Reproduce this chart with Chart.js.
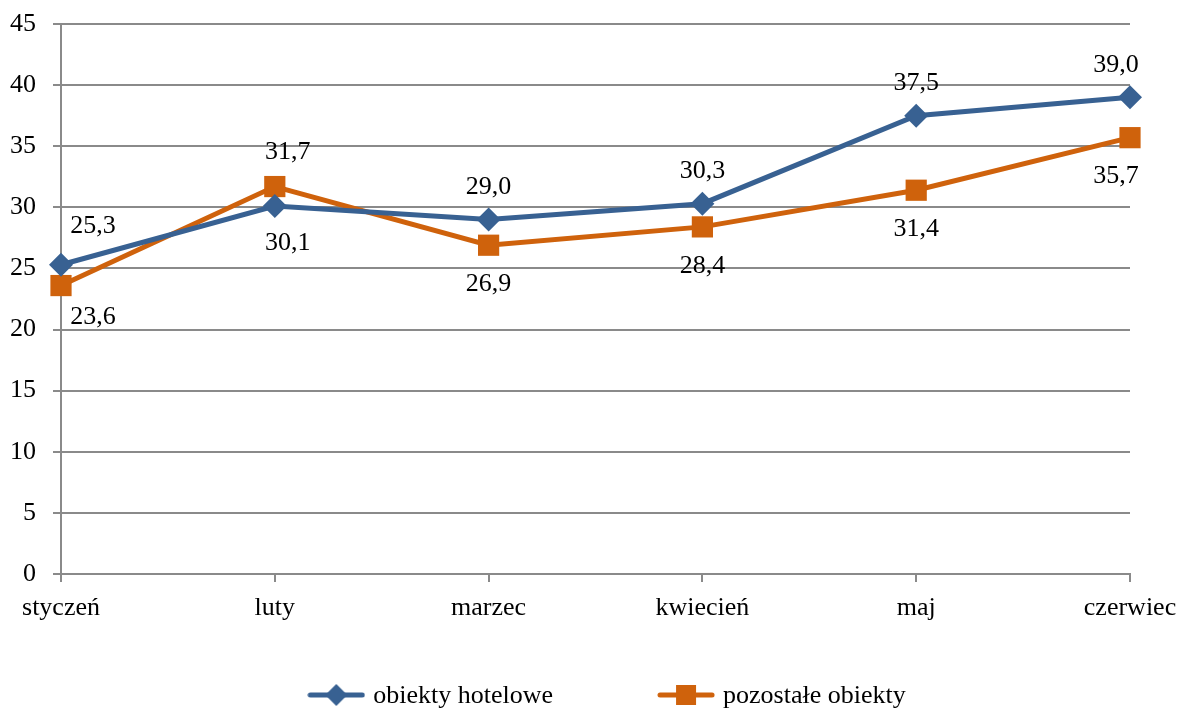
<!DOCTYPE html>
<html>
<head>
<meta charset="utf-8">
<script src="https://cdn.jsdelivr.net/npm/chart.js@4.4.1/dist/chart.umd.min.js"></script>
<style>
  html, body { margin: 0; padding: 0; background: #fff; }
  #wrap { width: 1179px; height: 710px; }
</style>
</head>
<body>
<div id="wrap"><canvas id="chart" width="1179" height="710"></canvas></div>
<script>
// data
const months = ["styczeń", "luty", "marzec", "kwiecień", "maj", "czerwiec"];
const hotelowe = [25.3, 30.1, 29.0, 30.3, 37.5, 39.0];
const pozostale = [23.6, 31.7, 26.9, 28.4, 31.4, 35.7];
const seriesNames = ["obiekty hotelowe", "pozostałe obiekty"];

const BLUE = "#386192";
const ORANGE = "#cf620c";
const FONT = "'Liberation Serif', 'Times New Roman', serif";
const FONT_SIZE = 26;
const GRID = "#8a8a8a";

// small nudges of the value labels, like in the original
const labelShiftX = [32, 13, 0, 0, 0, -14];
const labelShiftY = [-7, -2, 0, 0, 0, 0];

// legend symbol: short line with marker
function legendSymbol(color, shape) {
    const c = document.createElement("canvas");
    c.width = 58; c.height = 30;
    const ctx = c.getContext("2d");
    ctx.strokeStyle = color;
    ctx.lineWidth = 5;
    ctx.lineCap = "round";
    ctx.beginPath();
    ctx.moveTo(3, 15); ctx.lineTo(55, 15);
    ctx.stroke();
    ctx.fillStyle = color;
    if (shape === "diamond") {
        ctx.beginPath();
        ctx.moveTo(29, 4); ctx.lineTo(40, 15); ctx.lineTo(29, 26); ctx.lineTo(18, 15);
        ctx.closePath(); ctx.fill();
    } else {
        ctx.fillRect(19, 5, 20, 20);
    }
    return c;
}
const symbols = [legendSymbol(BLUE, "diamond"), legendSymbol(ORANGE, "square")];

const valueLabels = {
    id: "valueLabels",
    afterDatasetsDraw(chart) {
        const ctx = chart.ctx;
        const sets = chart.data.datasets;
        ctx.save();
        ctx.font = FONT_SIZE + "px " + FONT;
        ctx.fillStyle = "#000";
        ctx.textAlign = "center";
        ctx.textBaseline = "middle";
        sets.forEach((ds, di) => {
            const meta = chart.getDatasetMeta(di);
            const other = sets[1 - di].data;
            meta.data.forEach((pt, i) => {
                const v = ds.data[i];
                const above = v >= other[i];
                const y = (above ? pt.y - 32 : pt.y + 39) + labelShiftY[i];
                ctx.fillText(v.toFixed(1).replace(".", ","), pt.x + labelShiftX[i], y);
            });
        });
        ctx.restore();
    }
};

const bottomLegend = {
    id: "bottomLegend",
    afterDraw(chart) {
        const ctx = chart.ctx;
        ctx.save();
        ctx.font = FONT_SIZE + "px " + FONT;
        ctx.fillStyle = "#000";
        ctx.textBaseline = "middle";
        const w0 = ctx.measureText(seriesNames[0]).width;
        const w1 = ctx.measureText(seriesNames[1]).width;
        const total = 58 + 8 + w0 + 104 + 58 + 8 + w1;
        let x = chart.width / 2 + 17 - total / 2;
        const y = 695;
        ctx.drawImage(symbols[0], x, y - 15);
        x += 58 + 8;
        ctx.fillText(seriesNames[0], x, y + 1);
        x += w0 + 104;
        ctx.drawImage(symbols[1], x, y - 15);
        x += 58 + 8;
        ctx.fillText(seriesNames[1], x, y + 1);
        ctx.restore();
    }
};

new Chart(document.getElementById("chart"), {
    type: "line",
    data: {
        labels: months,
        datasets: [{
            label: seriesNames[0],
            data: hotelowe,
            borderColor: BLUE,
            backgroundColor: BLUE,
            borderWidth: 5,
            pointStyle: "rectRot",
            pointRadius: 12,
            pointHoverRadius: 12,
            pointBorderWidth: 0,
            tension: 0,
            fill: false
        }, {
            label: seriesNames[1],
            data: pozostale,
            borderColor: ORANGE,
            backgroundColor: ORANGE,
            borderWidth: 5,
            pointStyle: "rect",
            pointRadius: 15,
            pointHoverRadius: 15,
            pointBorderWidth: 0,
            tension: 0,
            fill: false
        }]
    },
    options: {
        responsive: false,
        animation: false,
        layout: { padding: { top: 24, right: 49, left: 0, bottom: 0 } },
        plugins: {
            legend: { display: false },
            tooltip: { enabled: false }
        },
        scales: {
            x: {
                offset: false,
                grid: {
                    display: true,
                    drawOnChartArea: false,
                    drawTicks: true,
                    tickLength: 8,
                    color: GRID,
                    lineWidth: 2
                },
                border: { display: true, color: GRID, width: 2 },
                ticks: {
                    color: "#000",
                    font: { family: FONT, size: FONT_SIZE },
                    padding: 11,
                    maxRotation: 0,
                    autoSkip: false
                },
                afterFit(scale) {
                    scale.height = 136;
                    scale.paddingLeft = 0;
                    scale.paddingRight = 0;
                }
            },
            y: {
                min: 0,
                max: 45,
                ticks: {
                    stepSize: 5,
                    color: "#000",
                    font: { family: FONT, size: FONT_SIZE },
                    padding: 17
                },
                grid: {
                    color: GRID,
                    lineWidth: 2,
                    drawTicks: true,
                    tickLength: 8
                },
                border: { display: true, color: GRID, width: 2 },
                afterFit(scale) {
                    scale.width = 61;
                    scale.paddingTop = 0;
                    scale.paddingBottom = 0;
                }
            }
        }
    },
    plugins: [valueLabels, bottomLegend]
});
</script>
</body>
</html>
